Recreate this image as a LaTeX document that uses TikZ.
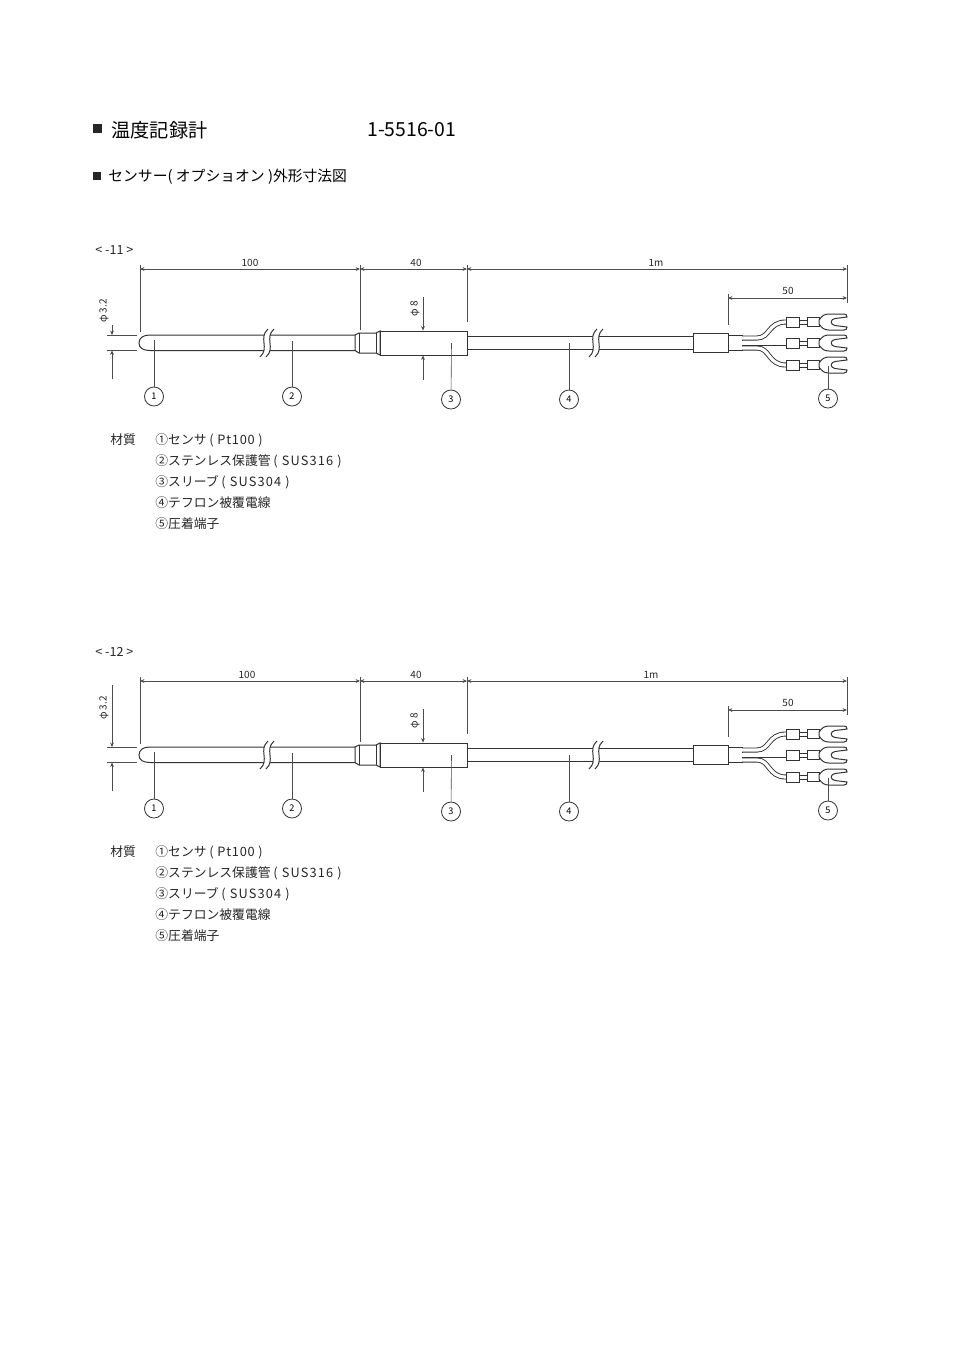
\documentclass[tikz,border=0pt]{standalone}
\usepackage{fontspec}
\setmainfont{Noto Sans CJK JP}
\usetikzlibrary{arrows.meta}
\newcommand{\wide}[2]{{\addfontfeature{LetterSpace=#1}#2}}
\tikzset{
  terminal/.pic={
    \draw [part,fill=white] (0,-5) rectangle (13,5);
    \draw [part,fill=white] (13,-2) rectangle (21,2);
    \draw [part,fill=white] (21,-4.5) rectangle (33,4.5);
    \draw [part,fill=white] (33,-2) .. controls (36,-6) and (38,-8) .. (43,-8) -- (58,-8) .. controls (60,-8) and (61,-7) .. (61,-5) -- (49,-3.5) .. controls (44,-3) and (44,3) .. (49,3.5) -- (61,5) .. controls (61,7) and (60,8) .. (58,8) -- (43,8) .. controls (38,8) and (36,6) .. (33,2) -- cycle;
  },
  cut/.pic={
    \fill [white] (2,-14) .. controls (-8,-5) and (4,5) .. (-6,14) -- (0,14) .. controls (10,5) and (-2,-5) .. (8,-14) -- cycle;
    \draw [part] (2,-14) .. controls (-8,-5) and (4,5) .. (-6,14);
    \draw [part] (8,-14) .. controls (-2,-5) and (10,5) .. (0,14);
  }
}
\newcommand{\sensorpic}[6]{
\begin{scope}[shift={(0,#2)},name prefix=#1]
\coordinate (d0) at (140,269);
\coordinate (d1) at (360,269);
\coordinate (d2) at (467,269);
\coordinate (d3) at (847,269);
\coordinate (d4) at (728,298);
\coordinate (d5) at (847,298);
\draw [ext] (140,265) -- (140,332);
\draw [ext] (360,265) -- (360,330);
\draw [ext] (467,265) -- (467,322);
\draw [ext] (847,265) -- (847,303);
\draw [ext] (728,294) -- (728,325);
\draw [dimen] (d0) -- (d1);
\draw [dimen] (d1) -- (d2);
\draw [dimen] (d2) -- (d3);
\draw [dimen] (d4) -- (d5);
\node (t100) [lab] at (#3,263) {100};
\node (t40) [lab] at (416,263) {40};
\node (t1m) [lab] at (#4,263) {1m};
\node (t50) [lab] at (788,291) {50};
\draw [ext] (107,335) -- (137,335);
\draw [ext] (107,350.5) -- (137,350.5);
\coordinate (p0) at (112,#5);
\coordinate (p1) at (112,335);
\coordinate (p2) at (112,350.5);
\coordinate (p3) at (112,379);
\draw [ptr] (p0) -- (p1);
\draw [ptr] (p3) -- (p2);
\node (tp) [lab,rotate=90] at (104,#6) {φ 3.2};
\coordinate (q0) at (423,297);
\coordinate (q1) at (423,330.5);
\coordinate (q2) at (423,355.5);
\coordinate (q3) at (423,380);
\draw [ptr] (q0) -- (q1);
\draw [ptr] (q3) -- (q2);
\node (tq) [lab,rotate=90] at (415,309) {φ 8};
\draw [part] (355,335) -- (150,335) .. controls (143,335) and (139,338) .. (139,343) .. controls (139,348) and (143,350.5) .. (150,350.5) -- (355,350.5);
\pic at (266,343) {cut};
\draw [part] (355,335) -- (359,333) -- (376,333) -- (380,331) -- (380,355) -- (376,353) -- (359,353) -- (355,350.5) -- cycle;
\draw [part] (359,333) -- (359,353);
\draw [part] (376,333) -- (376,353);
\draw [part] (380,331) rectangle (467.5,355.5);
\draw [part] (467.5,336.5) -- (693,336.5);
\draw [part] (467.5,349.5) -- (693,349.5);
\pic at (595,343) {cut};
\draw [part] (693,333) rectangle (728,352);
\draw [part] (728,335) rectangle (742,350);
\draw [wire] (742,338) -- (757,338) .. controls (770,338) and (768,322) .. (786,322);
\draw [wire] (742,348) -- (757,348) .. controls (770,348) and (768,365) .. (786,365);
\draw [wire] (742,343) -- (786,343);
\pic at (786,322) {terminal};
\pic at (786,343) {terminal};
\pic at (786,365) {terminal};
\node (n1) [num] at (154,396.5) {1};
\node (n2) [num] at (292,396.5) {2};
\node (n3) [num] at (451,399.5) {3};
\node (n4) [num] at (569,399.5) {4};
\node (n5) [num] at (828,398.5) {5};
\coordinate (l1) at (154,340);
\coordinate (l2) at (292,341);
\coordinate (l3) at (451.5,343);
\coordinate (l4) at (569,343);
\coordinate (l5) at (828,366);
\draw [lead] (l1) -- (n1);
\draw [lead] (l2) -- (n2);
\draw [lead] (l3) -- (n3);
\draw [lead] (l4) -- (n4);
\draw [lead] (l5) -- (n5);
\node (mat) [txt] at (110,440) {材質};
\node (m1) [txt] at (155,440) {①センサ \wide{6}{( Pt100 )}};
\node (m2) [txt] at (155,461) {②ステンレス保護管 \wide{9}{( SUS316 )}};
\node (m3) [txt] at (155,482) {③スリーブ \wide{9}{( SUS304 )}};
\node (m4) [txt] at (155,503) {④テフロン被覆電線};
\node (m5) [txt] at (155,524) {⑤圧着端子};
\end{scope}
}
\begin{document}
\begin{tikzpicture}[x=0.5pt,y=-0.5pt]
\tikzstyle{every node}+=[inner sep=0pt]
\tikzstyle{part}=[line width=0.5pt,black!80]
\tikzstyle{ext}=[line width=0.3pt,black!70]
\tikzstyle{lead}=[line width=0.3pt,black!70]
\tikzstyle{dimen}=[line width=0.3pt,black!70,{Stealth[length=2.2pt,width=1.9pt]}-{Stealth[length=2.2pt,width=1.9pt]}]
\tikzstyle{ptr}=[line width=0.3pt,black!70,-{Stealth[length=2.2pt,width=1.9pt]}]
\tikzstyle{wire}=[draw=black!80,line width=0.45pt,double=white,double distance=1.6pt]
\tikzstyle{num}=[circle,draw=black!80,line width=0.4pt,minimum size=9.5pt,font=\fontsize{4.6}{5}\selectfont]
\tikzstyle{lab}=[text=black!85,font=\fontsize{5}{6}\selectfont]
\tikzstyle{txt}=[anchor=west,text=black!85,font=\fontsize{6.4}{8}\selectfont]
\useasboundingbox (0,0) rectangle (960,1357);
\node (b1) [fill=black!85,minimum size=4.5pt] at (97.5,128.5) {};
\node (title) [anchor=west,font=\fontsize{9.6}{11}\selectfont] at (111,130) {温度記録計};
\node (code) [anchor=west,font=\fontsize{9.7}{11}\selectfont] at (367,130) {1-5516-01};
\node (b2) [fill=black!85,minimum size=4pt] at (97,175.5) {};
\node (sub) [anchor=west,font=\fontsize{7.4}{9}\selectfont] at (108,177) {センサー( オプショオン )外形寸法図};
\node (tag1) [anchor=west,text=black!85,font=\fontsize{6.3}{7}\selectfont] at (95,250) {< -11 >};
\node (tag2) [anchor=west,text=black!85,font=\fontsize{6.3}{7}\selectfont] at (95,652) {< -12 >};
\sensorpic{a-}{0}{250}{656}{325}{311}
\sensorpic{b-}{412}{247}{651}{273}{296}
\end{tikzpicture}
\end{document}
